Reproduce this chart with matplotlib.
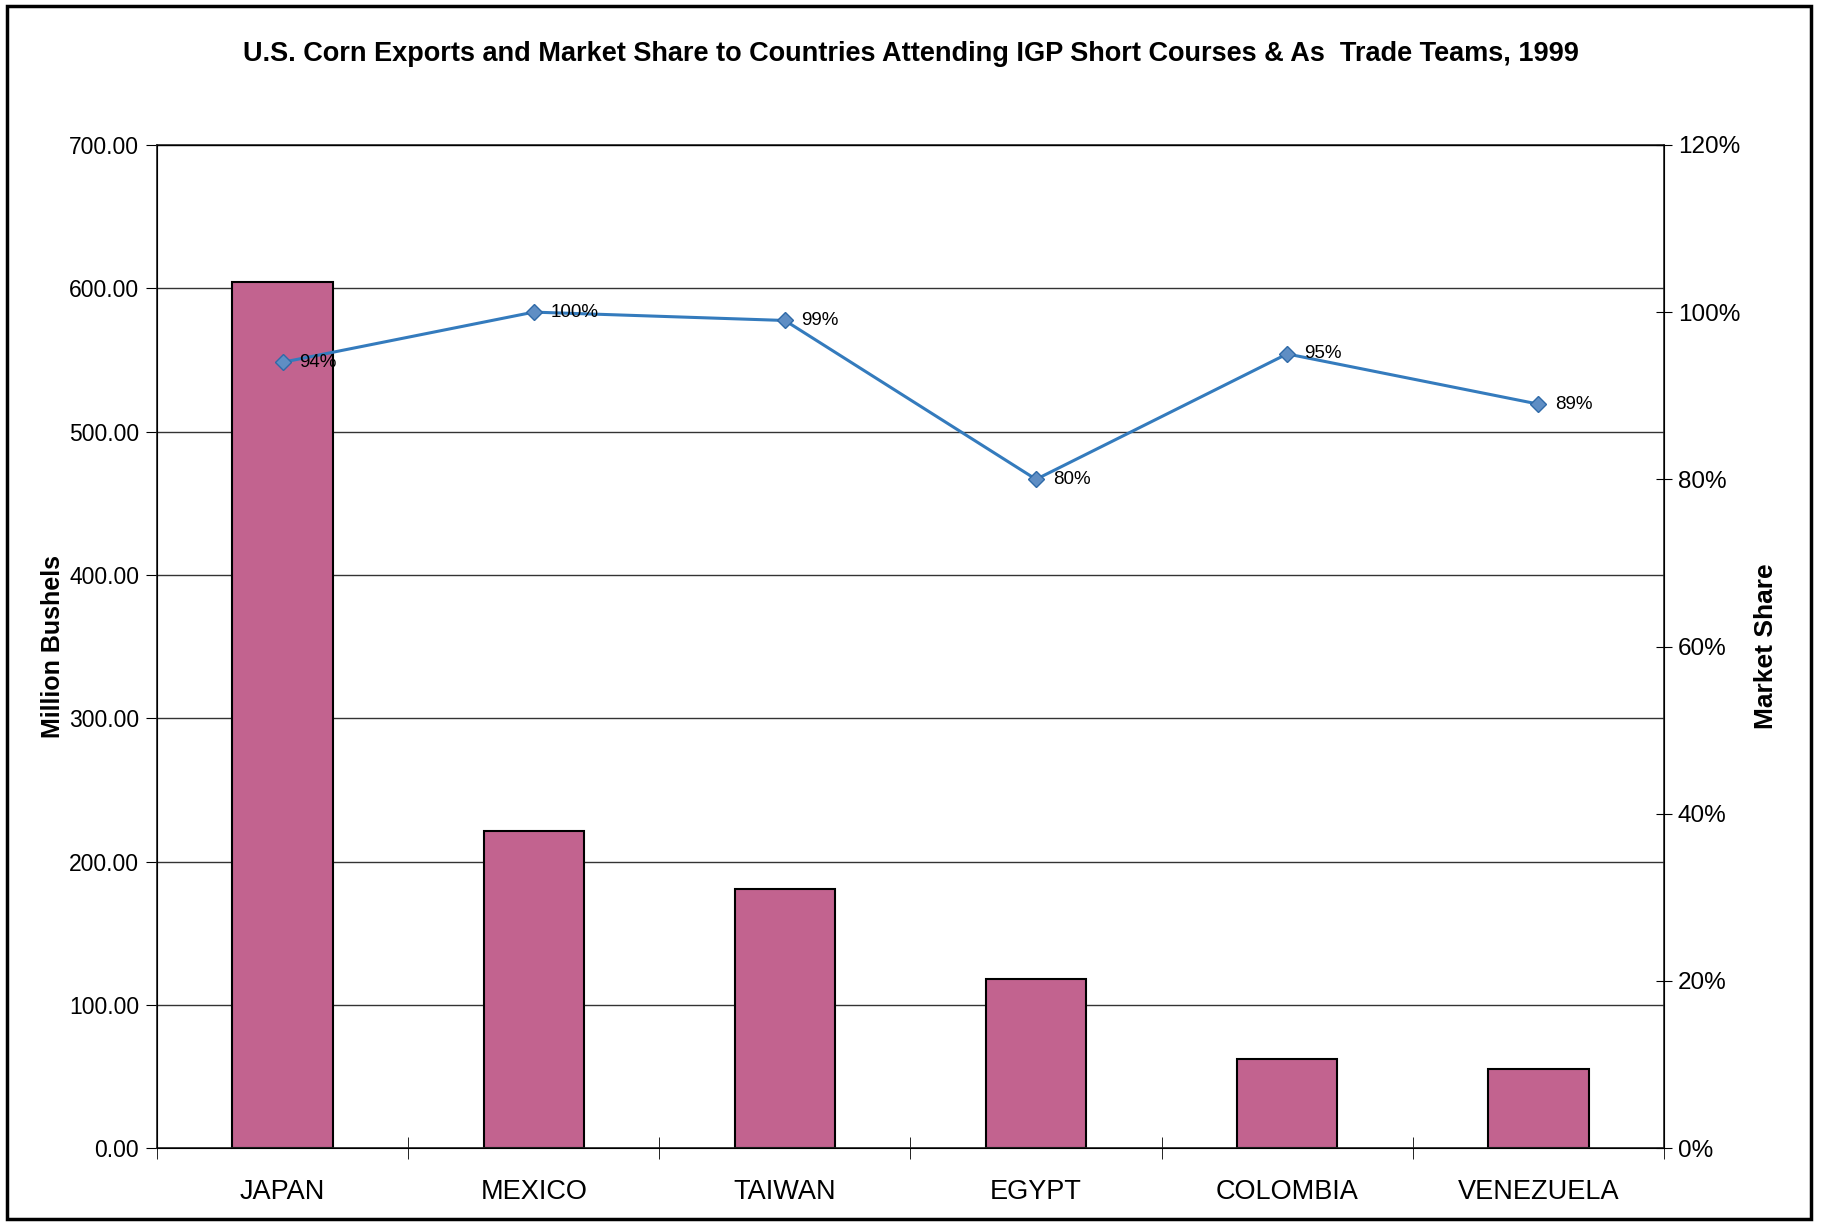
import numpy as np
import matplotlib.pyplot as plt
from matplotlib.patches import Rectangle

plt.rcParams["font.family"] = ["Liberation Sans", "DejaVu Sans"]

# data
countries = ["JAPAN", "MEXICO", "TAIWAN", "EGYPT", "COLOMBIA", "VENEZUELA"]
exports = [604, 221, 181, 118, 62, 55]          # million bushels
share = [94, 100, 99, 80, 95, 89]               # market share, %
share_labels = ["94%", "100%", "99%", "80%", "95%", "89%"]

bar_color = "#C2638F"
line_color = "#347BBD"

fig = plt.figure(figsize=(18.22, 12.28), dpi=100)
ax = fig.add_axes([0.0862, 0.065, 0.827, 0.817])

x = np.arange(len(countries))
ax.bar(x, exports, width=0.4, color=bar_color, edgecolor="black", linewidth=1.5, zorder=2)

ax.set_xlim(-0.5, len(countries) - 0.5)
ax.set_ylim(0, 700)
ax.set_yticks(np.arange(0, 701, 100))
ax.set_yticklabels([f"{v:.2f}" for v in np.arange(0, 701, 100)], fontsize=16.5)
ax.yaxis.grid(True, color="#333333", linewidth=1.0, zorder=0)
ax.set_axisbelow(True)
ax.tick_params(axis="y", direction="out", length=8, pad=5)

# category labels between boundary ticks, Excel style
ax.set_xticks(x)
ax.set_xticklabels(countries, fontsize=19.5)
ax.tick_params(axis="x", length=0, pad=22)
ax.set_xticks(np.arange(-0.5, len(countries)), minor=True)
ax.tick_params(axis="x", which="minor", direction="inout", length=16)

ax.set_ylabel("Million Bushels", fontsize=18, fontweight="bold", labelpad=3)
for s in ax.spines.values():
    s.set_color("#222222")
    s.set_linewidth(1.2)

ax2 = ax.twinx()
ax2.plot(x, share, color=line_color, linewidth=2.2, marker="D", markersize=8,
         markerfacecolor="#5F8EC4", markeredgecolor="#2F6AA8", zorder=3)
for xi, yi, lab in zip(x, share, share_labels):
    ax2.annotate(lab, (xi, yi), xytext=(12, 0), textcoords="offset points",
                 va="center", ha="left", fontsize=13.5)
ax2.set_ylim(0, 120)
ax2.set_yticks(np.arange(0, 121, 20))
ax2.set_yticklabels([f"{v}%" for v in range(0, 121, 20)], fontsize=17.5)
ax2.tick_params(axis="y", direction="inout", length=12, pad=4)
ax2.set_ylabel("Market Share", fontsize=19, fontweight="bold", labelpad=10)

fig.text(0.5, 0.956, "U.S. Corn Exports and Market Share to Countries Attending IGP Short Courses & As  Trade Teams, 1999",
         ha="center", va="center", fontsize=19.5, fontweight="bold")

# chart area frame
fig.patches.append(Rectangle((0.004, 0.007), 0.99, 0.988, transform=fig.transFigure,
                             fill=False, edgecolor="black", linewidth=2.5))

fig.savefig("out.png", dpi=100)
